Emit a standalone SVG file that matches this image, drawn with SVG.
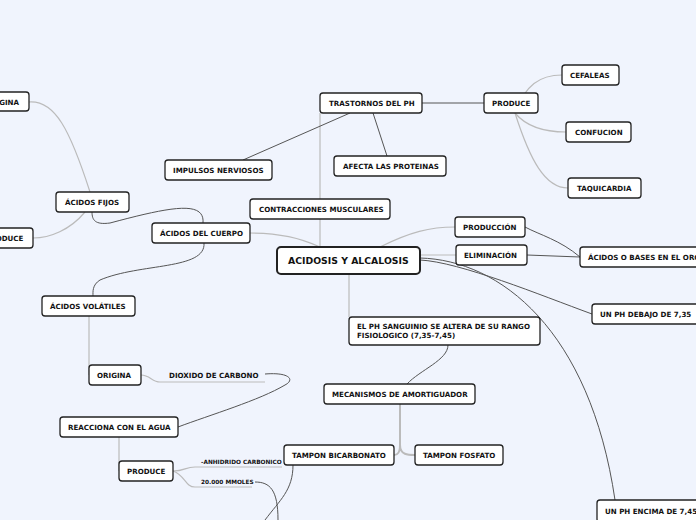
<svg xmlns="http://www.w3.org/2000/svg" width="696" height="520" viewBox="0 0 696 520">
<style>
.n rect{fill:#fff;stroke:#222;stroke-width:1.3}
.n text{font-family:"DejaVu Sans",Verdana,sans-serif;font-weight:bold;font-size:7.1px;fill:#111}
.t text{font-family:"DejaVu Sans",Verdana,sans-serif;font-weight:bold;font-size:5.8px;fill:#111}
.d{fill:none;stroke:#555;stroke-width:1}
.l{fill:none;stroke:#bbb;stroke-width:1.2}
</style>
<rect width="696" height="520" fill="#f0f4fd"/>
<g id="connectors">
<path class="l" d="M320,247 C300,238 280,233 250,233"/>
<path class="d" d="M203,223 C205,200 170,207 110,223 C95,225 92,220 92,212"/>
<path class="d" d="M204,243 C206,270 140,263 100,280 C92,285 93,292 93,296"/>
<path class="l" d="M90,192 C70,130 55,100 29,102"/>
<path class="l" d="M85,212 C70,230 50,238 33,238"/>
<path class="l" d="M89,316 L89,375"/>
<path class="l" d="M141,375 C150,375 152,382 160,382 L265,382"/>
<path class="d" d="M265,374 C290,372 295,380 285,385 C260,400 210,415 178,427"/>
<path class="l" d="M119,437 L119,471"/>
<path class="l" d="M173,471 C185,471 185,467 195,467 L282,467"/>
<path class="l" d="M173,471 C185,475 185,487 195,487 L252,487"/>
<path class="d" d="M255,482 C270,482 278,490 278,520"/>
<path class="d" d="M293,465 C293,490 280,500 265,520"/>
<path class="l" d="M400,404 L400,445 C400,455 396,455 394,455 M400,445 C400,455 408,455 415,455" style="stroke-width:2"/>
<path class="d" d="M448,345 C448,360 420,370 407,384"/>
<path class="l" d="M349,274 L349,317"/>
<path class="l" d="M380,247 C410,232 430,227 455,227"/>
<path class="l" d="M420,255 L456,255"/>
<path class="d" d="M420,260 C460,262 540,295 592,314"/>
<path class="d" d="M420,258 C500,260 590,330 615,500"/>
<path class="d" d="M525,227 C540,235 560,240 580,257"/>
<path class="d" d="M527,255 L580,257"/>
<path class="l" d="M320,247 L320,113"/>
<path class="d" d="M350,113 L243,160"/>
<path class="d" d="M373,113 L387,156"/>
<path class="d" d="M422,103 L484,103"/>
<path class="l" d="M515,113 C525,85 540,75 562,75"/>
<path class="l" d="M515,113 C525,125 540,132 566,132"/>
<path class="l" d="M515,113 C530,160 545,188 568,188"/>
</g>
<g id="n1" class="n"><rect x="-8" y="92" width="37" height="19" rx="3"/><text x="-15" y="104.5">ORIGINA</text></g>
<g id="n2" class="n"><rect x="56" y="192" width="73" height="20" rx="3"/><text x="65" y="205">ÁCIDOS FIJOS</text></g>
<g id="n3" class="n"><rect x="-8" y="228" width="41" height="20" rx="3"/><text x="-15" y="241">PRODUCE</text></g>
<g id="n4" class="n"><rect x="152" y="223" width="98" height="20" rx="3"/><text x="160" y="236">ÁCIDOS DEL CUERPO</text></g>
<g id="n5" class="n"><rect x="165" y="160" width="107" height="20" rx="3"/><text x="173" y="173">IMPULSOS NERVIOSOS</text></g>
<g id="n6" class="n"><rect x="250" y="199" width="140" height="20" rx="3"/><text x="259" y="212">CONTRACCIONES MUSCULARES</text></g>
<g id="n7" class="n"><rect x="320" y="93" width="102" height="20" rx="3"/><text x="329" y="106">TRASTORNOS DEL PH</text></g>
<g id="n8" class="n"><rect x="334" y="156" width="112" height="20" rx="3"/><text x="343" y="169">AFECTA LAS PROTEINAS</text></g>
<g id="n9" class="n"><rect x="484" y="93" width="54" height="20" rx="3"/><text x="492" y="106">PRODUCE</text></g>
<g id="n10" class="n"><rect x="562" y="65" width="57" height="20" rx="3"/><text x="570" y="78">CEFALEAS</text></g>
<g id="n11" class="n"><rect x="566" y="122" width="65" height="20" rx="3"/><text x="575" y="135">CONFUCION</text></g>
<g id="n12" class="n"><rect x="568" y="178" width="73" height="20" rx="3"/><text x="577" y="191">TAQUICARDIA</text></g>
<g id="n13" class="n"><rect x="277" y="247" width="143" height="27" rx="4" style="stroke-width:2"/><text x="288" y="264" style="font-size:9.3px">ACIDOSIS Y ALCALOSIS</text></g>
<g id="n14" class="n"><rect x="455" y="217" width="70" height="20" rx="3"/><text x="463" y="230">PRODUCCIÓN</text></g>
<g id="n15" class="n"><rect x="456" y="245" width="71" height="20" rx="3"/><text x="464" y="258">ELIMINACIÓN</text></g>
<g id="n16" class="n"><rect x="580" y="247" width="125" height="20" rx="3"/><text x="588" y="260">ÁCIDOS O BASES EN EL ORGANISMO</text></g>
<g id="n17" class="n"><rect x="592" y="304" width="110" height="20" rx="3"/><text x="600" y="317">UN PH DEBAJO DE 7,35</text></g>
<g id="n18" class="n"><rect x="349" y="317" width="191" height="28" rx="3"/><text x="357" y="329">EL PH SANGUINIO SE ALTERA DE SU RANGO</text><text x="357" y="338">FISIOLOGICO (7,35-7,45)</text></g>
<g id="n19" class="n"><rect x="324" y="384" width="151" height="20" rx="3"/><text x="332" y="397">MECANISMOS DE AMORTIGUADOR</text></g>
<g id="n20" class="n"><rect x="284" y="445" width="110" height="20" rx="3"/><text x="292" y="458">TAMPON BICARBONATO</text></g>
<g id="n21" class="n"><rect x="415" y="445" width="88" height="20" rx="3"/><text x="423" y="458">TAMPON FOSFATO</text></g>
<g id="n22" class="n"><rect x="597" y="500" width="110" height="22" rx="3"/><text x="605" y="514">UN PH ENCIMA DE 7,45</text></g>
<g id="n23" class="n"><rect x="42" y="296" width="93" height="20" rx="3"/><text x="50" y="309">ÁCIDOS VOLÁTILES</text></g>
<g id="n24" class="n"><rect x="89" y="365" width="52" height="20" rx="3"/><text x="97" y="378">ORIGINA</text></g>
<g id="n25" class="n"><text x="169" y="378">DIOXIDO DE CARBONO</text></g>
<g id="n26" class="n"><rect x="60" y="417" width="118" height="20" rx="3"/><text x="68" y="430">REACCIONA CON EL AGUA</text></g>
<g id="n27" class="n"><rect x="119" y="461" width="54" height="20" rx="3"/><text x="127" y="474">PRODUCE</text></g>
<g id="n28" class="t"><text x="201" y="464">-ANHIDRIDO CARBONICO</text></g>
<g id="n29" class="t"><text x="201" y="484">20.000 MMOLES</text></g>
</svg>
